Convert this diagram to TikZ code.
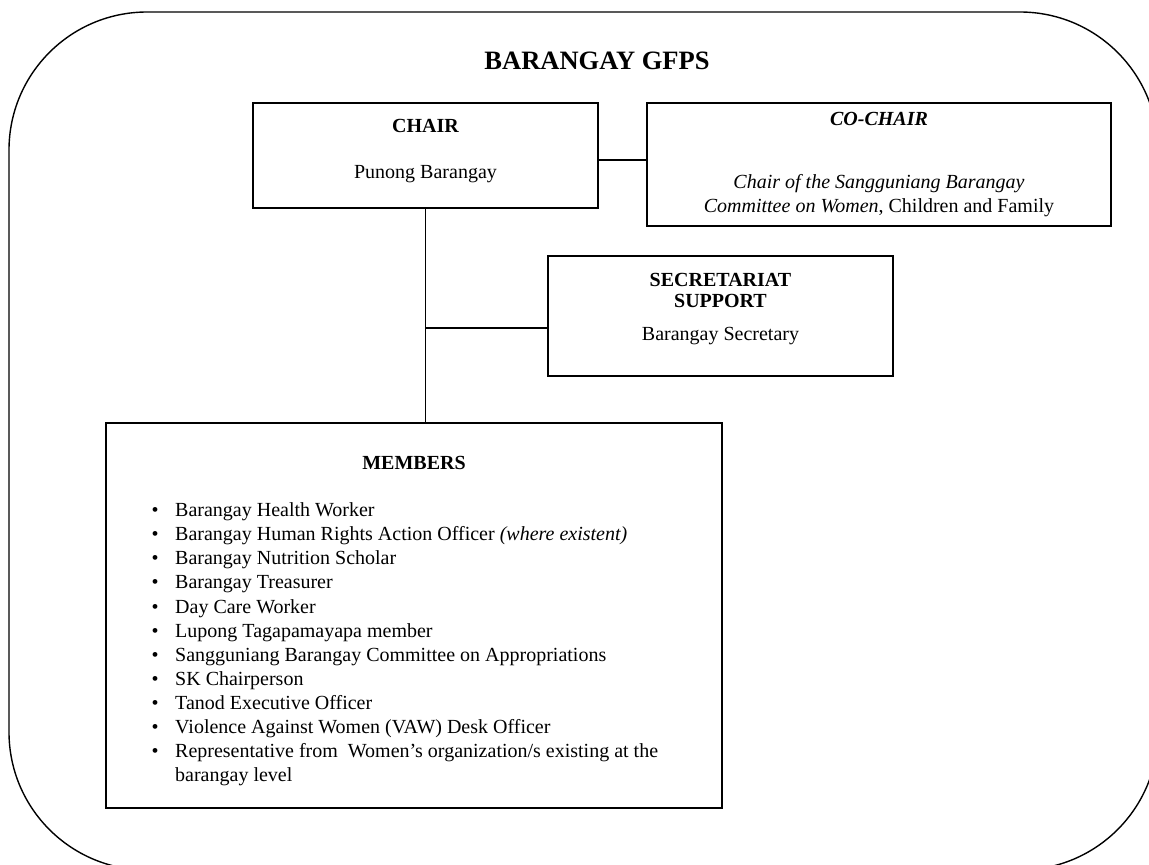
\documentclass[tikz,border=0pt]{standalone}
\usepackage{fontspec}
\setmainfont{Liberation Serif}
\tikzset{
  box/.style={draw, line width=1.8pt, rectangle, inner sep=0pt},
  conn/.style={line width=1.5pt},
  outer/.style={line width=1.4pt, rounded corners=138pt},
  txt/.style={anchor=base, inner sep=0pt, font=\fontsize{20}{24}\selectfont},
  itm/.style={anchor=base west, inner sep=0pt, font=\fontsize{20}{24}\selectfont},
  bul/.style={anchor=base, inner sep=0pt, font=\fontsize{20}{24}\selectfont}
}
\begin{document}
\begin{tikzpicture}[x=1pt,y=-1pt]
\useasboundingbox (0,0) rectangle (1149,865);
\begin{scope}
\clip (0,0) rectangle (1149,865);
\draw[outer] (9,12) rectangle (1158,870);
\end{scope}
\node[anchor=base, inner sep=0pt, font=\fontsize{26.5}{30}\selectfont\bfseries] (title) at (597,69) {BARANGAY GFPS};
% boxes
\node[box, minimum width=345pt, minimum height=105pt] (chair) at (425.5,155.5) {};
\node[box, minimum width=464pt, minimum height=123pt] (cochair) at (879,164.5) {};
\node[box, minimum width=345pt, minimum height=120pt] (sec) at (720.5,316) {};
\node[box, minimum width=616pt, minimum height=385pt] (mem) at (414,615.5) {};
% chair text
\node[txt, font=\fontsize{20}{24}\selectfont\bfseries] (chairT) at (425.5,132) {CHAIR};
\node[txt] (chairN) at (425.5,178) {Punong Barangay};
% co-chair text
\node[txt, font=\fontsize{20}{24}\selectfont\bfseries\itshape] (cochairT) at (879,125) {CO-CHAIR};
\node[txt] (cochairN1) at (879,188) {\itshape Chair of the Sangguniang Barangay};
\node[txt] (cochairN2) at (879,212) {\textit{Committee on Women}, Children and Family};
% secretariat text
\node[txt, font=\fontsize{20}{24}\selectfont\bfseries] (secT1) at (720.5,286) {SECRETARIAT};
\node[txt, font=\fontsize{20}{24}\selectfont\bfseries] (secT2) at (720.5,307) {SUPPORT};
\node[txt] (secN) at (720.5,340) {Barangay Secretary};
% members
\node[txt, font=\fontsize{20}{24}\selectfont\bfseries] (memT) at (414,469) {MEMBERS};
\foreach \i/\t in {0/{Barangay Health Worker},
  1/{Barangay Human Rights Action Officer \textit{(where existent)}},
  2/{Barangay Nutrition Scholar},
  3/{Barangay Treasurer},
  4/{Day Care Worker},
  5/{Lupong Tagapamayapa member},
  6/{Sangguniang Barangay Committee on Appropriations},
  7/{SK Chairperson},
  8/{Tanod Executive Officer},
  9/{Violence Against Women (VAW) Desk Officer},
  10/{Representative from\ \ Women’s organization/s existing at the}} {
  \node[bul] (b\i) at (155,516.6+24.1*\i) {•};
  \node[itm] (m\i) at (175,516.6+24.1*\i) {\t};
}
\node[itm] (m11) at (175,516.6+24.1*11) {barangay level};
% connectors
\coordinate (cc) at (598,160);
\draw[conn] (cc) -- (cc -| cochair.west);
\draw[conn] (chair.south) -- (chair.south |- mem.north);
\coordinate (br) at (425.5,328);
\draw[conn] (br) -- (br -| sec.west);
\end{tikzpicture}
\end{document}
